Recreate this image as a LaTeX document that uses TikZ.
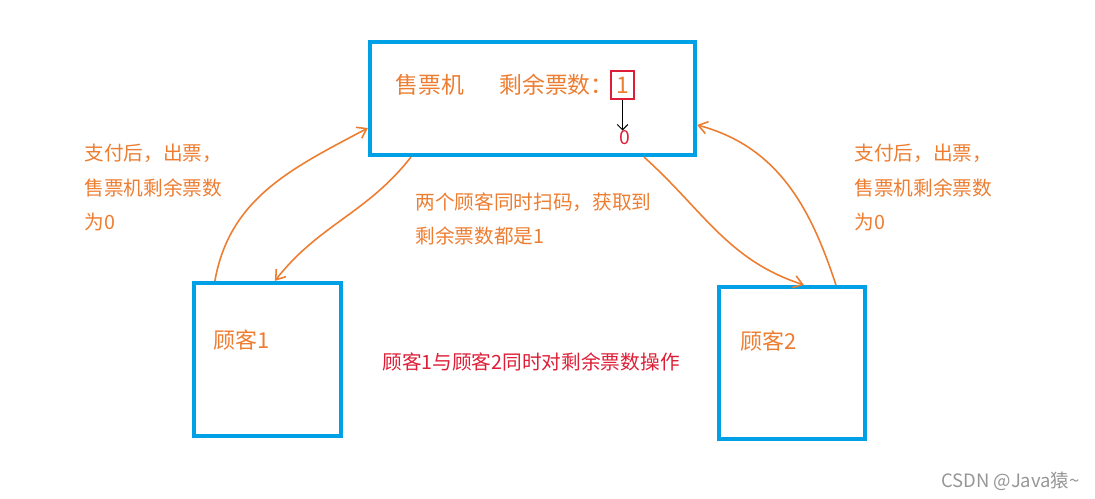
\documentclass[tikz,border=0pt]{standalone}
\usepackage{fontspec}
\setmainfont{Noto Sans CJK SC}
\usepackage{tikz}
\usetikzlibrary{arrows.meta}
\definecolor{boxblue}{RGB}{0,160,230}
\definecolor{noteorange}{RGB}{237,125,49}
\definecolor{alertred}{RGB}{222,30,55}
\definecolor{markgray}{RGB}{150,150,150}

\begin{document}
\begin{tikzpicture}[
  x=0.02cm, y=-0.02cm,
  bigbox/.style={draw=boxblue, line width=2.4pt, inner sep=0pt},
  txt/.style={text=noteorange, inner sep=0pt, anchor=west},
  note/.style={txt, font=\fontsize{11.2pt}{19.6pt}\selectfont, align=left, anchor=north west},
  flow/.style={draw=noteorange, line width=0.9pt, -{Straight Barb[length=5pt,width=7pt]}}
]
\useasboundingbox (0,0) rectangle (1095,499);

% boxes
\node[bigbox, minimum width=6.5cm, minimum height=2.26cm] (machine) at (532.5,98.5) {};
\node[bigbox, minimum width=2.94cm, minimum height=3.06cm] (cust1) at (267.5,359.5) {};
\node[bigbox, minimum width=2.92cm, minimum height=3.04cm] (cust2) at (792,363) {};

% machine content
\node[txt, font=\fontsize{13pt}{13pt}\selectfont] (mname) at (395,85) {售票机};
\node[txt, font=\fontsize{13pt}{13pt}\selectfont] (mleft) at (499,85) {剩余票数：};
\node[draw=alertred, line width=1.2pt, text=noteorange, inner sep=0pt,
  minimum width=0.46cm, minimum height=0.56cm, font=\fontsize{13pt}{13pt}\selectfont] (one) at (622.5,85) {1};
\node[text=alertred, inner sep=0pt, font=\fontsize{11pt}{11pt}\selectfont] (zero) at (625,138) {0};
\draw[-{Straight Barb[length=3pt,width=6pt]}, black, line width=0.6pt] (one.south) -- (one.south |- zero.north);

% customer names
\node[txt, font=\fontsize{12.5pt}{12.5pt}\selectfont] (c1name) at (213,340) {顾客1};
\node[txt, font=\fontsize{12.5pt}{12.5pt}\selectfont] (c2name) at (740,341) {顾客2};

% notes
\node[note] (lnote) at (84,144) {支付后，出票，\\售票机剩余票数\\为0};
\node[note] (rnote) at (854,144) {支付后，出票，\\售票机剩余票数\\为0};
\node[note] (mnote) at (415,192) {两个顾客同时扫码，获取到\\剩余票数都是1};
\node[text=alertred, inner sep=0pt, anchor=west, font=\fontsize{11.2pt}{12pt}\selectfont] (both) at (382,362) {顾客1与顾客2同时对剩余票数操作};

% watermark
\node[text=markgray, inner sep=0pt, anchor=east, font=\fontsize{10.5pt}{11pt}\selectfont] (mark) at (1080,481) {CSDN @Java猿\textasciitilde};

% flows
\draw[flow] ([xshift=0.46cm]cust1.north west) to[out=80,in=208] ([yshift=-0.59cm]machine.west);
\draw[flow] ([xshift=0.86cm]machine.south west) to[out=232,in=52] ([xshift=1.66cm]cust1.north west);
\draw[flow] ([xshift=-1.06cm]machine.south east) to[out=-42,in=162] ([xshift=1.74cm]cust2.north west);
\draw[flow] ([xshift=2.38cm]cust2.north west) to[out=108,in=-15] ([yshift=-0.53cm]machine.east);

\end{tikzpicture}
\end{document}
